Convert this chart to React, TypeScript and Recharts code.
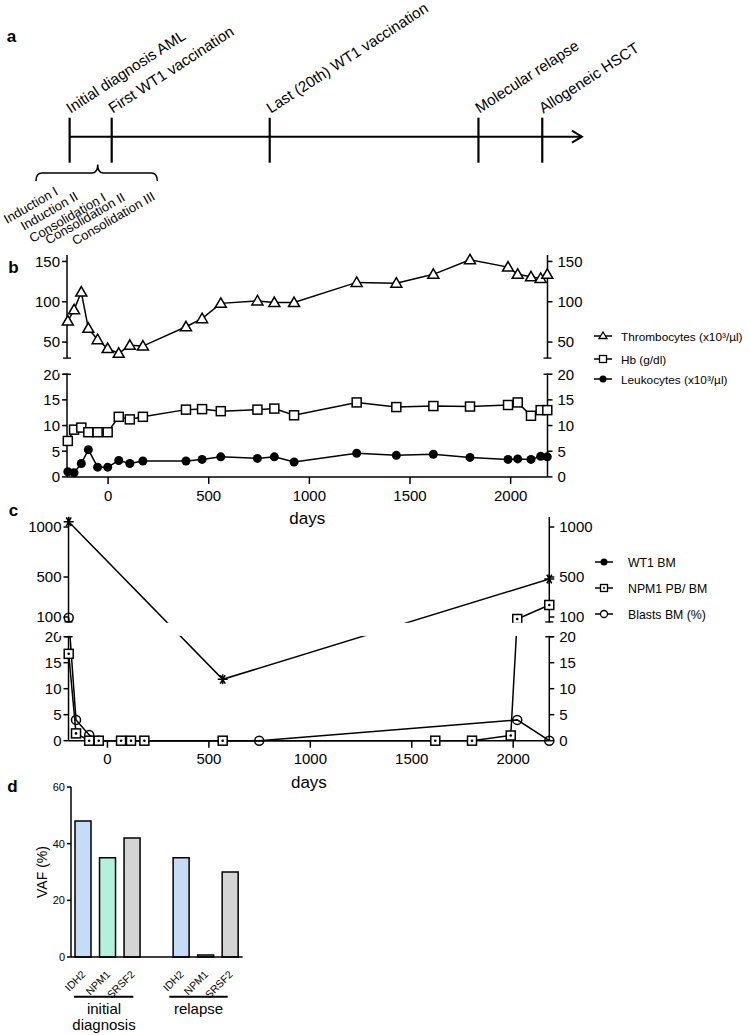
import React from "react";
import { ComposedChart, Line, XAxis, YAxis, ReferenceLine, BarChart, Bar, Cell } from "recharts";

const FONT = "'Liberation Sans', Arial, Helvetica, sans-serif";
const W = 749;

// a: timeline events (days relative to first vaccination)
const eventDays = [-191, 18, 803, 1840, 2157];
const eventLabels = [
  "Initial diagnosis AML",
  "First WT1 vaccination",
  "Last (20th) WT1 vaccination",
  "Molecular relapse",
  "Allogeneic HSCT",
];
const arrowDay = 2354;
const therapyLabels = ["Induction I", "Induction II", "Consolidation I", "Consolidation II", "Consolidation III"];

// b: blood counts
const bDays = [-200, -169, -133, -98, -52, -2, 53, 108, 173, 387, 467, 560, 742, 826, 924, 1235, 1432, 1616, 1798, 1987, 2035, 2101, 2149, 2182];
const thrombocytes = [76, 90, 112, 67, 53, 42, 36, 46, 45, 69, 79, 98, 101, 99, 99, 124, 123, 134, 152, 143, 134, 131, 129, 134];
const hb = [7.0, 9.2, 9.6, 8.7, 8.7, 8.7, 11.7, 11.2, 11.7, 13.1, 13.2, 12.8, 13.1, 13.3, 12.0, 14.5, 13.6, 13.8, 13.7, 14.0, 14.5, 11.9, 13.0, 13.0];
const leukocytes = [1.0, 0.8, 2.6, 5.3, 1.9, 1.9, 3.2, 2.6, 3.1, 3.1, 3.4, 3.9, 3.6, 3.9, 2.9, 4.6, 4.2, 4.4, 3.8, 3.4, 3.5, 3.4, 4.0, 3.9];
const bLowTicks = [0, 5, 10, 15, 20];
const bHighTicks = [50, 100, 150];

// c: molecular markers
const wt1Days = [-191, 568, 2178];
const wt1Values = [1053, 11.8, 480];
const npm1Days = [-191, -155, -90, -43, 67, 116, 182, 568, 1616, 1797, 1988, 2020, 2178];
const npm1Values = [16.7, 1.4, 0, 0, 0, 0, 0, 0, 0, 0, 1.0, 80, 220];
const blastDays = [-191, -155, -90, -43, 748, 2020, 2178];
const blastValues = [93, 4.0, 1.1, 0, 0, 4.0, 0];
const cLowTicks = [0, 5, 10, 15, 20];
const cHighTicks = [100, 500, 1000];

const dayTicks = [0, 500, 1000, 1500, 2000];

// d: VAF
const genes = ["IDH2", "NPM1", "SRSF2"];
const vafInitial = [48, 35, 42];
const vafRelapse = [35, 0.7, 30];
const geneColors = ["#c6dbf5", "#b2f1db", "#d4d4d4"];

type Seg = { min: number; max: number; px: number };
function broken(low: Seg, gap: number, high: Seg) {
  const f = (v: number) =>
    v <= low.max
      ? ((v - low.min) / (low.max - low.min)) * low.px
      : low.px + gap + ((v - high.min) / (high.max - high.min)) * high.px;
  return { f, total: low.px + gap + high.px, lowTop: low.px, highBottom: low.px + gap };
}

const bScale = broken({ min: 0, max: 20, px: 102.7 }, 16, { min: 30, max: 158, px: 103.2 });
const cScale = broken({ min: 0, max: 20, px: 104 }, 14.7, { min: 50, max: 1100, px: 105 });

const B = { left: 67, right: 547.5, bottom: 476.7, xDomain: [-204, 2183] as [number, number] };
const C = { left: 68.5, right: 549.3, bottom: 740.7, xDomain: [-192, 2178] as [number, number] };

// markers
const triDot = (p: any) =>
  p.cx == null ? <g key={`t${p.index}`} /> : (
    <path key={`t${p.index}`} d={`M${p.cx},${p.cy - 5.5}L${p.cx + 5.5},${p.cy + 4}L${p.cx - 5.5},${p.cy + 4}Z`} fill="#fff" stroke="#000" strokeWidth={1.5} />
  );
const sqDot = (p: any) =>
  p.cx == null ? <g key={`s${p.index}`} /> : (
    <rect key={`s${p.index}`} x={p.cx - 4.5} y={p.cy - 4.5} width={9} height={9} fill="#fff" stroke="#000" strokeWidth={1.5} />
  );
const sqPtDot = (p: any) =>
  p.cx == null ? <g key={`q${p.index}`} /> : (
    <g key={`q${p.index}`}>
      <rect x={p.cx - 4.5} y={p.cy - 4.5} width={9} height={9} fill="#fff" stroke="#000" strokeWidth={1.5} />
      <circle cx={p.cx} cy={p.cy} r={1.3} fill="#000" />
    </g>
  );
const fillDot = (p: any) =>
  p.cx == null ? <g key={`f${p.index}`} /> : <circle key={`f${p.index}`} cx={p.cx} cy={p.cy} r={4.5} fill="#000" />;
const openDot = (p: any) =>
  p.cx == null ? <g key={`o${p.index}`} /> : (
    <circle key={`o${p.index}`} cx={p.cx} cy={p.cy} r={4.5} fill="none" stroke="#000" strokeWidth={1.5} />
  );
const starDot = (p: any) => {
  if (p.cx == null) return <g key={`a${p.index}`} />;
  const r = 5;
  const d = [0, 60, 120]
    .map((a) => {
      const dx = r * Math.cos((a * Math.PI) / 180);
      const dy = r * Math.sin((a * Math.PI) / 180);
      return `M${p.cx - dx},${p.cy - dy}L${p.cx + dx},${p.cy + dy}`;
    })
    .join("");
  return <path key={`a${p.index}`} d={d + `M${p.cx},${p.cy - r}L${p.cx},${p.cy + r}`} stroke="#000" strokeWidth={1.5} />;
};

type Series = { name: string; days: number[]; values: number[]; dot: (p: any) => React.ReactElement };

function BrokenChart({
  box,
  scale,
  lowTicks,
  highTicks,
  series,
}: {
  box: typeof B;
  scale: ReturnType<typeof broken>;
  lowTicks: number[];
  highTicks: number[];
  series: Series[];
}) {
  const mt = 10;
  const mb = 8;
  const yw = 45;
  const xh = 47.5;
  const plotTop = box.bottom - scale.total;
  const height = mt + scale.total + xh + mb;
  const tickPairs = [...lowTicks, ...highTicks].map((v) => [scale.f(v), String(v)] as [number, string]);
  const labels = new Map(tickPairs);
  const capDays = 4 / ((box.right - box.left) / (box.xDomain[1] - box.xDomain[0]));
  const caps = [scale.lowTop, scale.highBottom];
  const tickStyle = { fontSize: 15, fill: "#000", fontFamily: FONT };
  const rows = series.map((s) => s.days.map((d, i) => ({ day: d, v: scale.f(s.values[i]) })));
  return (
    <div style={{ position: "absolute", left: 0, top: plotTop - mt }}>
      <ComposedChart width={W} height={height} margin={{ top: mt, left: box.left - yw, right: W - box.right - yw, bottom: mb }}>
        <XAxis
          type="number"
          dataKey="day"
          domain={box.xDomain}
          ticks={dayTicks}
          interval={0}
          tick={tickStyle}
          tickSize={7}
          tickMargin={6}
          stroke="#000"
          strokeWidth={1.5}
          height={xh}
          label={{ value: "days", position: "insideBottom", offset: 0, fontSize: 17, fill: "#000", fontFamily: FONT }}
        />
        <YAxis
          yAxisId="L"
          type="number"
          domain={[0, scale.total]}
          ticks={tickPairs.map((t) => t[0])}
          tickFormatter={(v: number) => labels.get(v) ?? ""}
          interval={0}
          width={yw}
          tick={tickStyle}
          tickSize={5}
          tickMargin={2}
          stroke="#000"
          strokeWidth={1.5}
        />
        <YAxis
          yAxisId="R"
          orientation="right"
          type="number"
          domain={[0, scale.total]}
          ticks={tickPairs.map((t) => t[0])}
          tickFormatter={(v: number) => labels.get(v) ?? ""}
          interval={0}
          width={yw}
          tick={tickStyle}
          tickSize={5}
          tickMargin={5}
          stroke="#000"
          strokeWidth={1.5}
        />
        {caps.flatMap((y) =>
          box.xDomain.map((x) => (
            <ReferenceLine
              key={`cap${x}-${y}`}
              yAxisId="L"
              segment={[{ x: x - capDays, y }, { x: x + capDays, y }]}
              stroke="#000"
              strokeWidth={1.5}
              ifOverflow="visible"
            />
          ))
        )}
        {/* the right axis mirrors the left one; this hidden copy only binds it */}
        <Line
          yAxisId="R"
          data={rows[0]}
          dataKey="v"
          stroke="none"
          dot={false}
          activeDot={false}
          legendType="none"
          isAnimationActive={false}
        />
        {series.map((s, k) => (
          <Line
            key={s.name}
            name={s.name}
            yAxisId="L"
            data={rows[k]}
            dataKey="v"
            type="linear"
            stroke="#000"
            strokeWidth={1.5}
            dot={s.dot}
            activeDot={false}
            isAnimationActive={false}
          />
        ))}
      </ComposedChart>
    </div>
  );
}

const TimelineMark = (p: any) => {
  const { cx, cy, payload, index } = p;
  if (cx == null) return <g key={`e${index}`} />;
  if (!payload.label)
    return <path key={`e${index}`} d={`M${cx - 10},${cy - 6}L${cx},${cy}L${cx - 10},${cy + 6}`} fill="none" stroke="#000" strokeWidth={2} />;
  const tx = cx + 1;
  const ty = cy - 23;
  return (
    <g key={`e${index}`}>
      <line x1={cx} x2={cx} y1={cy - 19} y2={cy + 26} stroke="#000" strokeWidth={2.2} />
      <text x={tx} y={ty} transform={`rotate(-33 ${tx} ${ty})`} fontSize={15.2} fontFamily={FONT} fill="#000">
        {payload.label}
      </text>
    </g>
  );
};

function Timeline() {
  const rows = [...eventDays.map((d, i) => ({ day: d, y: 0, label: eventLabels[i] })), { day: arrowDay, y: 0, label: "" }];
  return (
    <div style={{ position: "absolute", left: 0, top: 0 }}>
      <ComposedChart width={W} height={273.4} data={rows} margin={{ top: 0, bottom: 0, left: 60, right: W - 585 }}>
        <XAxis type="number" dataKey="day" domain={[-238.8, 2369.3]} hide />
        <YAxis type="number" domain={[-1, 1]} hide />
        <Line dataKey="y" stroke="#000" strokeWidth={2} dot={TimelineMark} activeDot={false} isAnimationActive={false} />
      </ComposedChart>
    </div>
  );
}

const dRows = [
  ...genes.map((g, i) => ({ id: `i-${g}`, gene: g, vaf: vafInitial[i] as number | null })),
  { id: "gap", gene: "", vaf: null as number | null },
  ...genes.map((g, i) => ({ id: `r-${g}`, gene: g, vaf: vafRelapse[i] as number | null })),
];

const GeneTick = (p: any) => {
  const { x, y, payload } = p;
  const g = dRows[payload.index]?.gene;
  if (!g) return <g />;
  const tx = x + 3;
  const ty = y + 18;
  return (
    <text x={tx} y={ty} transform={`rotate(-45 ${tx} ${ty})`} textAnchor="end" fontSize={10.5} fontFamily={FONT} fill="#000">
      {g}
    </text>
  );
};

function VafChart() {
  return (
    <div style={{ position: "absolute", left: 0, top: 777.3 }}>
      <BarChart width={253} height={232} data={dRows} margin={{ top: 10, left: 41, right: 10.3, bottom: 12 }} barSize={16}>
        <XAxis dataKey="id" tick={GeneTick} tickLine={false} interval={0} tickSize={0} tickMargin={0} height={40} stroke="#000" strokeWidth={1.5} />
        <YAxis
          type="number"
          domain={[0, 60]}
          ticks={[0, 20, 40, 60]}
          interval={0}
          width={30}
          tickSize={4}
          tickMargin={2}
          tick={{ fontSize: 11, fill: "#000", fontFamily: FONT }}
          stroke="#000"
          strokeWidth={1.5}
        />
        <Bar dataKey="vaf" stroke="#000" strokeWidth={1.5} isAnimationActive={false}>
          {dRows.map((r) => (
            <Cell key={r.id} fill={geneColors[genes.indexOf(r.gene)] ?? "none"} />
          ))}
        </Bar>
      </BarChart>
    </div>
  );
}

function LegendMarker({ kind, x, y }: { kind: string; x: number; y: number }) {
  const c = x + 9;
  return (
    <g>
      <line x1={x} x2={x + 18} y1={y} y2={y} stroke="#000" strokeWidth={1.5} />
      {kind === "tri" && <path d={`M${c},${y - 4}L${c + 4},${y + 2.5}L${c - 4},${y + 2.5}Z`} fill="#fff" stroke="#000" strokeWidth={1.3} />}
      {kind === "sq" && <rect x={c - 3.5} y={y - 3.5} width={7} height={7} fill="#fff" stroke="#000" strokeWidth={1.3} />}
      {kind === "sqdot" && (
        <g>
          <rect x={c - 3.5} y={y - 3.5} width={7} height={7} fill="#fff" stroke="#000" strokeWidth={1.3} />
          <circle cx={c} cy={y} r={1} fill="#000" />
        </g>
      )}
      {kind === "dot" && <circle cx={c} cy={y} r={3.5} fill="#000" />}
      {kind === "circ" && <circle cx={c} cy={y} r={3.5} fill="#fff" stroke="#000" strokeWidth={1.3} />}
    </g>
  );
}

const bLegend = [
  { label: "Thrombocytes (x10³/µl)", kind: "tri", y: 336 },
  { label: "Hb (g/dl)", kind: "sq", y: 359 },
  { label: "Leukocytes (x10³/µl)", kind: "dot", y: 379 },
];
const cLegend = [
  { label: "WT1 BM", kind: "dot", y: 562 },
  { label: "NPM1 PB/ BM", kind: "sqdot", y: 588 },
  { label: "Blasts BM (%)", kind: "circ", y: 614 },
];
const therapyEnds: [number, number][] = [
  [59, 194],
  [79, 199],
  [107, 200],
  [126, 200],
  [156, 199],
];

function Overlay() {
  const bTop = B.bottom - bScale.total;
  const cTop = C.bottom - cScale.total;
  const letter = (t: string, x: number, y: number) => (
    <text x={x} y={y} textAnchor="middle" dominantBaseline="central" fontSize={17} fontWeight="bold" fontFamily={FONT}>
      {t}
    </text>
  );
  return (
    <svg width={W} height={1035} style={{ position: "absolute", left: 0, top: 0, pointerEvents: "none" }}>
      {/* gaps of the broken axes */}
      <rect x={58} y={bTop + (bScale.total - bScale.highBottom) + 0.8} width={500} height={bScale.highBottom - bScale.lowTop - 1.6} fill="#fff" />
      <rect x={58} y={cTop + (cScale.total - cScale.highBottom) + 0.8} width={500} height={cScale.highBottom - cScale.lowTop - 1.6} fill="#fff" />

      {letter("a", 11.5, 36)}
      {letter("b", 13.5, 267)}
      {letter("c", 13.5, 510)}
      {letter("d", 12.5, 786)}

      <path d="M36 181 Q36 173 42 173 H92 Q97.7 173 97.7 164.5 Q97.7 173 103.4 173 H151.3 Q157.3 173 157.3 181" fill="none" stroke="#000" strokeWidth={1.5} />
      {therapyLabels.map((t, i) => {
        const [x, y] = therapyEnds[i];
        return (
          <text key={t} x={x} y={y} transform={`rotate(-30 ${x} ${y})`} textAnchor="end" fontSize={13} fontFamily={FONT}>
            {t}
          </text>
        );
      })}

      {bLegend.map((l) => (
        <g key={l.label}>
          <LegendMarker kind={l.kind} x={594} y={l.y} />
          <text x={621} y={l.y + 4.5} fontSize={11.8} fontFamily={FONT}>
            {l.label}
          </text>
        </g>
      ))}
      {cLegend.map((l) => (
        <g key={l.label}>
          <LegendMarker kind={l.kind} x={595} y={l.y} />
          <text x={628} y={l.y + 4.5} fontSize={12.3} fontFamily={FONT}>
            {l.label}
          </text>
        </g>
      ))}

      <text x={42.3} y={872} transform="rotate(-90 42.3 872)" textAnchor="middle" dominantBaseline="central" fontSize={14} fontFamily={FONT}>
        VAF (%)
      </text>
      <line x1={74} x2={133.3} y1={996.7} y2={996.7} stroke="#000" strokeWidth={2} />
      <line x1={169.3} x2={227.7} y1={996.7} y2={996.7} stroke="#000" strokeWidth={2} />
      <text x={104} y={1014} textAnchor="middle" fontSize={15} fontFamily={FONT}>
        initial
      </text>
      <text x={104} y={1030} textAnchor="middle" fontSize={15} fontFamily={FONT}>
        diagnosis
      </text>
      <text x={198.5} y={1014} textAnchor="middle" fontSize={15} fontFamily={FONT}>
        relapse
      </text>
    </svg>
  );
}

export default function App() {
  return (
    <div style={{ position: "absolute", left: 0, top: 0, width: W, height: 1035, background: "#fff", fontFamily: FONT }}>
      <Timeline />
      <BrokenChart
        box={B}
        scale={bScale}
        lowTicks={bLowTicks}
        highTicks={bHighTicks}
        series={[
          { name: "Thrombocytes (x10³/µl)", days: bDays, values: thrombocytes, dot: triDot },
          { name: "Hb (g/dl)", days: bDays, values: hb, dot: sqDot },
          { name: "Leukocytes (x10³/µl)", days: bDays, values: leukocytes, dot: fillDot },
        ]}
      />
      <BrokenChart
        box={C}
        scale={cScale}
        lowTicks={cLowTicks}
        highTicks={cHighTicks}
        series={[
          { name: "Blasts BM (%)", days: blastDays, values: blastValues, dot: openDot },
          { name: "NPM1 PB/ BM", days: npm1Days, values: npm1Values, dot: sqPtDot },
          { name: "WT1 BM", days: wt1Days, values: wt1Values, dot: starDot },
        ]}
      />
      <VafChart />
      <Overlay />
    </div>
  );
}
